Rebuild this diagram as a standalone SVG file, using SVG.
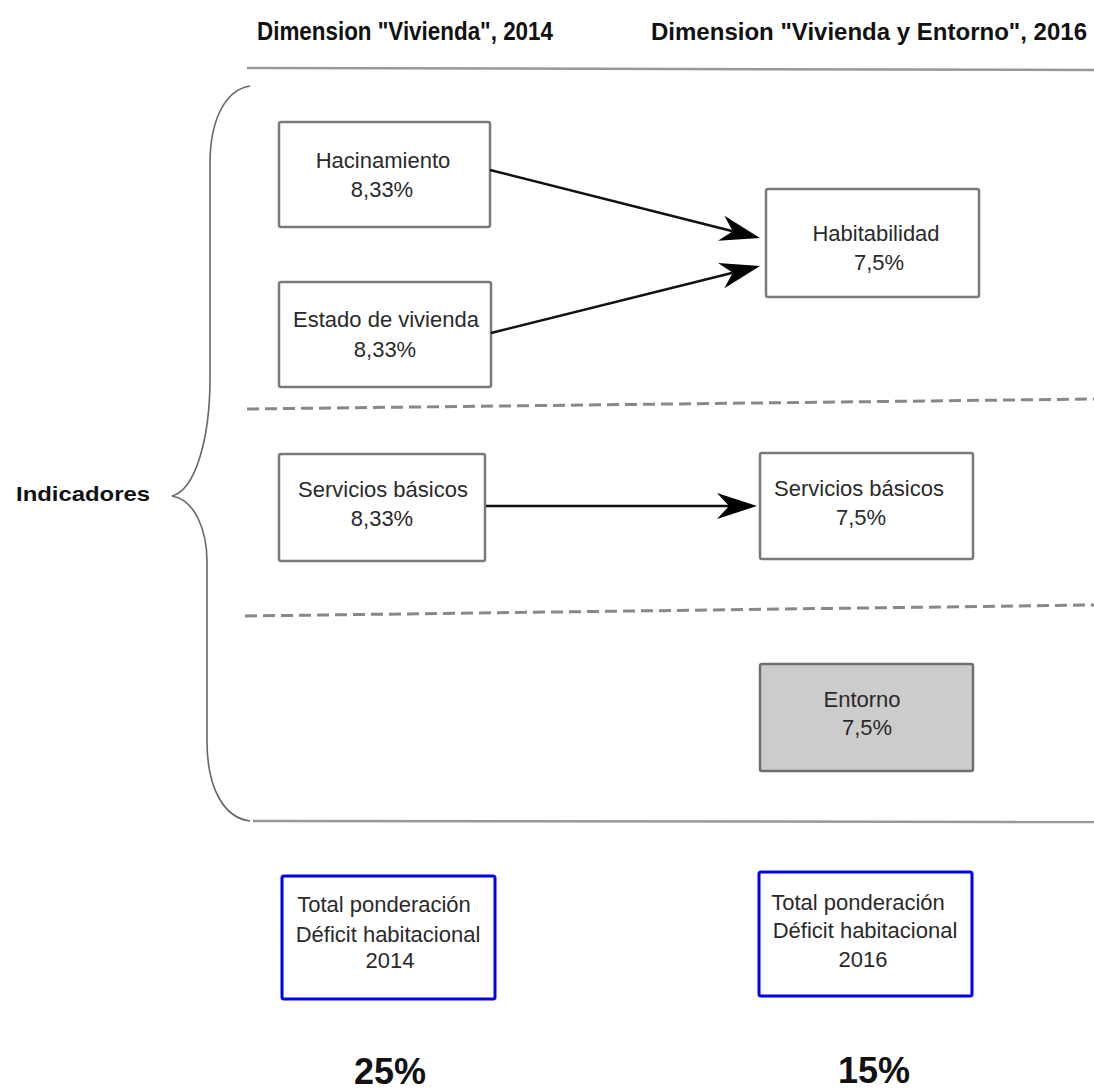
<svg xmlns="http://www.w3.org/2000/svg" width="1094" height="1092" viewBox="0 0 1094 1092">
<style>
.box{fill:#ffffff;stroke:#7a7a7a;stroke-width:2.5}
.grey{fill:#cccccc;stroke:#6e6e6e;stroke-width:2.5}
.blue{fill:#ffffff;stroke:#0000ee;stroke-width:3}
.t{font-family:"Liberation Sans",Arial,sans-serif;font-size:22px;fill:#2a2a2a;text-anchor:middle}
.h{font-family:"Liberation Sans",Arial,sans-serif;font-size:25px;font-weight:bold;fill:#111111}
.h2{font-family:"Liberation Sans",Arial,sans-serif;font-size:23px;font-weight:bold;fill:#111111}
.big{font-family:"Liberation Sans",Arial,sans-serif;font-size:36px;font-weight:bold;fill:#111111;text-anchor:middle}
.sep{stroke:#999999;stroke-width:2.5;fill:none}
.dash{stroke:#888888;stroke-width:3;stroke-dasharray:12 6;fill:none}
.arr{stroke:#111111;stroke-width:2.5;fill:none;marker-end:url(#ah)}
</style>
<defs>
<marker id="ah" markerUnits="userSpaceOnUse" viewBox="0 0 40 26" refX="12" refY="13" markerWidth="40" markerHeight="26" orient="auto">
<path d="M0,0 L40,13 L0,26 L12,13 Z" fill="#000000"/>
</marker>
</defs>
<rect x="0" y="0" width="1094" height="1092" fill="#ffffff"/>

<g id="headers">
<text class="h" x="257" y="40" textLength="296" lengthAdjust="spacingAndGlyphs">Dimension "Vivienda", 2014</text>
<text class="h2" x="651" y="40" textLength="436" lengthAdjust="spacingAndGlyphs">Dimension "Vivienda y Entorno", 2016</text>
</g>

<g id="separators">
<line class="sep" x1="247" y1="68" x2="1094" y2="70"/>
<line class="dash" x1="247" y1="409" x2="1094" y2="399"/>
<line class="dash" x1="245" y1="616" x2="1094" y2="605"/>
<line class="sep" x1="253" y1="821" x2="1094" y2="822"/>
</g>

<g id="brace">
<path d="M250,86 C225,90 210,120 210,164 L210,378 C210,440 195,490 172,496 C195,500 207,530 207,562 L207,741 C207,790 225,818 250,821" fill="none" stroke="#666666" stroke-width="1.6"/>
<text x="16" y="501" font-family="'Liberation Sans',Arial,sans-serif" font-size="21" font-weight="bold" fill="#111111" textLength="134" lengthAdjust="spacingAndGlyphs">Indicadores</text>
</g>

<g id="hacinamiento">
<rect class="box" x="279" y="122" width="211" height="105" rx="2"/>
<text class="t" x="383" y="168">Hacinamiento</text>
<text class="t" x="382" y="197">8,33%</text>
</g>

<g id="estado">
<rect class="box" x="279" y="282" width="212" height="105" rx="2"/>
<text class="t" x="386" y="327">Estado de vivienda</text>
<text class="t" x="385" y="357">8,33%</text>
</g>

<g id="habitabilidad">
<rect class="box" x="766" y="189" width="213" height="108" rx="2"/>
<text class="t" x="876" y="241">Habitabilidad</text>
<text class="t" x="879" y="270">7,5%</text>
</g>

<g id="servicios2014">
<rect class="box" x="279" y="454" width="206" height="107" rx="2"/>
<text class="t" x="383" y="497">Servicios básicos</text>
<text class="t" x="382" y="526">8,33%</text>
</g>

<g id="servicios2016">
<rect class="box" x="760" y="453" width="213" height="106" rx="2"/>
<text class="t" x="859" y="496">Servicios básicos</text>
<text class="t" x="861" y="525">7,5%</text>
</g>

<g id="entorno">
<rect class="grey" x="760" y="664" width="213" height="107" rx="2"/>
<text class="t" x="862" y="707">Entorno</text>
<text class="t" x="867" y="735">7,5%</text>
</g>

<g id="total2014">
<rect class="blue" x="282" y="876" width="213" height="123" rx="2"/>
<text class="t" x="384" y="912">Total ponderación</text>
<text class="t" x="388" y="942">Déficit habitacional</text>
<text class="t" x="390" y="968">2014</text>
<text class="big" x="390" y="1084">25%</text>
</g>

<g id="total2016">
<rect class="blue" x="759" y="872" width="213" height="124" rx="2"/>
<text class="t" x="858" y="910">Total ponderación</text>
<text class="t" x="865" y="938">Déficit habitacional</text>
<text class="t" x="863" y="967">2016</text>
<text class="big" x="874" y="1083">15%</text>
</g>

<g id="connectors">
<line class="arr" x1="490" y1="170" x2="732.8" y2="231.2"/>
<line class="arr" x1="491" y1="333" x2="732.8" y2="272.8"/>
<line class="arr" x1="486" y1="506" x2="729" y2="506"/>
</g>
</svg>
